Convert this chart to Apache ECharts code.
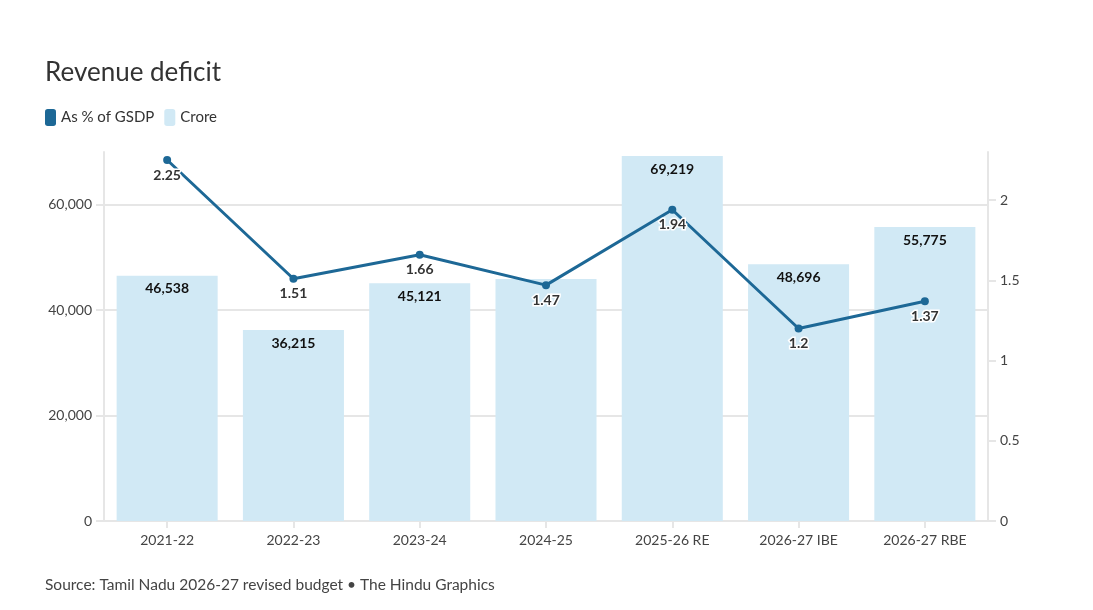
<!DOCTYPE html>
<html>
<head>
<meta charset="utf-8">
<script src="https://cdn.jsdelivr.net/npm/echarts@6/dist/echarts.min.js"></script>
<style>
  html, body { margin: 0; padding: 0; background: #fff; }
  #main { width: 1093px; height: 610px; }
</style>
</head>
<body>
<div id="main"></div>
<script>
var categories = ['2021-22', '2022-23', '2023-24', '2024-25', '2025-26 RE', '2026-27 IBE', '2026-27 RBE'];
var croreValues = [46538, 36215, 45121, 45900, 69219, 48696, 55775];
var gsdpValues = [2.25, 1.51, 1.66, 1.47, 1.94, 1.2, 1.37];
// bar label hidden in the original where it clashes with the line label
var hiddenBarLabels = ['2024-25'];

var font = 'Lato, "Noto Sans", sans-serif';
var lineColor = '#1d6896';
var barColor = '#d1e9f5';
var axisGrey = '#e6e6e6';

var barData = croreValues.map(function (v, i) {
    var item = { value: v };
    if (hiddenBarLabels.indexOf(categories[i]) >= 0) {
        item.label = { show: false };
    }
    return item;
});

var options = {
    animation: false,
    textStyle: { fontFamily: font },
    title: [
        {
            text: 'Revenue deficit',
            left: 40,
            top: 55,
            textStyle: { fontSize: 26, fontWeight: 'normal', color: '#333', fontFamily: font }
        },
        {
            text: 'Source: Tamil Nadu 2026-27 revised budget \u2022 The Hindu Graphics',
            left: 40,
            top: 572,
            textStyle: { fontSize: 15.5, fontWeight: 'normal', color: '#444', fontFamily: font }
        }
    ],
    legend: {
        left: 40,
        top: 104,
        itemWidth: 11,
        itemHeight: 17,
        itemGap: 10,
        textStyle: { fontSize: 15, color: '#333', padding: [0, 0, 0, 0] },
        data: [
            { name: 'As % of GSDP', icon: 'roundRect', itemStyle: { color: lineColor } },
            { name: 'Crore', icon: 'roundRect', itemStyle: { color: barColor } }
        ]
    },
    grid: { left: 104, right: 105, top: 152, bottom: 89 },
    xAxis: {
        type: 'category',
        data: categories,
        axisLine: { lineStyle: { color: axisGrey, width: 2 } },
        axisTick: { show: true, alignWithLabel: true, length: 7, lineStyle: { color: axisGrey, width: 2 } },
        axisLabel: { color: '#444', fontSize: 14, margin: 12 }
    },
    yAxis: [
        {
            type: 'value',
            min: 0,
            max: 70000,
            interval: 20000,
            axisLine: { show: true, lineStyle: { color: axisGrey, width: 2 } },
            axisTick: { show: true, length: 8, lineStyle: { color: axisGrey, width: 2 } },
            splitLine: { showMaxLine: false, lineStyle: { color: axisGrey, width: 2 } },
            axisLabel: {
                color: '#444', fontSize: 14, margin: 12,
                showMaxLabel: false,
                formatter: function (v) { return v.toLocaleString('en-US'); }
            }
        },
        {
            type: 'value',
            min: 0,
            max: 2.3,
            interval: 0.5,
            axisLine: { show: true, lineStyle: { color: axisGrey, width: 2 } },
            axisTick: { show: true, length: 8, lineStyle: { color: axisGrey, width: 2 } },
            splitLine: { show: false },
            axisLabel: { color: '#444', fontSize: 14, margin: 12, showMaxLabel: false }
        }
    ],
    series: [
        {
            name: 'Crore',
            type: 'bar',
            yAxisIndex: 0,
            data: barData,
            barWidth: '80%',
            itemStyle: { color: barColor },
            label: {
                show: true,
                position: 'insideTop',
                distance: 6,
                color: '#111',
                fontWeight: 'bold',
                fontSize: 14,
                formatter: function (p) { return p.value.toLocaleString('en-US'); }
            },
            z: 1
        },
        {
            name: 'As % of GSDP',
            type: 'line',
            yAxisIndex: 1,
            data: gsdpValues,
            symbol: 'circle',
            symbolSize: 8,
            lineStyle: { color: lineColor, width: 3 },
            itemStyle: { color: lineColor },
            label: {
                show: true,
                position: 'bottom',
                distance: 4,
                color: '#333',
                fontWeight: 'bold',
                fontSize: 14,
                textBorderColor: '#fff',
                textBorderWidth: 3
            },
            z: 3
        }
    ]
};

var chart = echarts.init(document.getElementById('main'));
chart.setOption(options);
</script>
</body>
</html>
